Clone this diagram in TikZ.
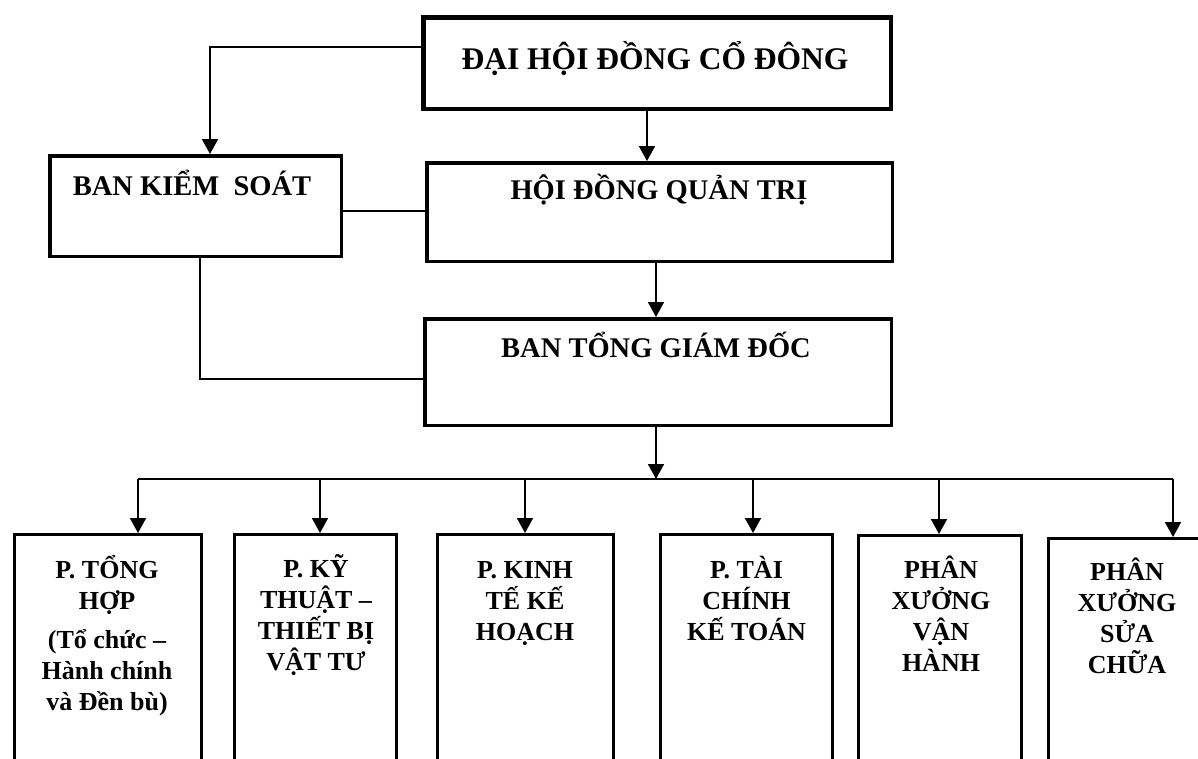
\documentclass[tikz,border=0pt]{standalone}
\usepackage{fontspec}
\setmainfont{Liberation Serif}
\usetikzlibrary{arrows.meta}
\begin{document}
\begin{tikzpicture}[x=1pt,y=-1pt,
  box/.style={draw, line width=3.5pt, inner sep=0pt, rectangle},
  dept/.style={draw, line width=2.7pt, inner sep=0pt, rectangle, anchor=north, minimum height=300},
  conn/.style={line width=1.8pt},
  arr/.style={conn, -{Triangle[width=16pt,length=15pt]}},
  ttl/.style={font=\bfseries\fontsize{28.5}{30}\selectfont, anchor=base, inner sep=0pt},
  dtxt/.style={font=\bfseries\fontsize{26}{31}\selectfont, align=flush center, anchor=base, inner sep=0pt, text width=180pt},
]
\useasboundingbox[fill=white] (0,0) rectangle (1198,758);
\clip (0,0) rectangle (1198,758);

% top boxes
\node[box, line width=4.5pt, minimum width=467.5, minimum height=91.5] (dh) at (657,63) {};
\node[ttl, font=\bfseries\fontsize{31.5}{33}\selectfont] (dht) at (655,69) {ĐẠI HỘI ĐỒNG CỔ ĐÔNG};

\node[box, minimum width=291.5, minimum height=100.5] (bks) at (195.5,206) {};
\node[ttl] (bkst) at (192,195) {BAN KIỂM\ \ SOÁT};

\node[box, minimum width=465.5, minimum height=98.5] (hdqt) at (659.5,212) {};
\node[ttl] (hdqtt) at (659,199) {HỘI ĐỒNG QUẢN TRỊ};

\node[box, minimum width=466.5, minimum height=106.5] (btgd) at (658,372) {};
\node[ttl] (btgdt) at (656,357) {BAN TỔNG GIÁM ĐỐC};

% departments
\node[dept, minimum width=187] (d1) at (108,533) {};
\node[dept, minimum width=162] (d2) at (315.5,533) {};
\node[dept, minimum width=176] (d3) at (525.5,533) {};
\node[dept, minimum width=172] (d4) at (746.5,533) {};
\node[dept, minimum width=163] (d5) at (940,534) {};
\node[dept, minimum width=157] (d6) at (1127,537) {};

\node[dtxt] (d1t) at (107,578) {P. TỔNG\\HỢP\\[8pt](Tổ chức –\\Hành chính\\và Đền bù)};
\node[dtxt] (d2t) at (316,577) {P. KỸ\\THUẬT –\\THIẾT BỊ\\VẬT TƯ};
\node[dtxt] (d3t) at (525,578) {P. KINH\\TẾ KẾ\\HOẠCH};
\node[dtxt] (d4t) at (746.5,578) {P. TÀI\\CHÍNH\\KẾ TOÁN};
\node[dtxt] (d5t) at (941,578) {PHÂN\\XƯỞNG\\VẬN\\HÀNH};
\node[dtxt] (d6t) at (1127,580) {PHÂN\\XƯỞNG\\SỬA\\CHỮA};

% connectors
\draw[arr] ([yshift=16pt]dh.west) -| ([xshift=14.5pt]bks.north);
\draw[arr] ([xshift=-10pt]dh.south) -- ([xshift=-10pt]dh.south |- hdqt.north);
\draw[conn] ([yshift=-5pt]bks.east) -- ([yshift=-5pt]bks.east -| hdqt.west);
\draw[arr] ([xshift=-3.5pt]hdqt.south) -- ([xshift=-3.5pt]hdqt.south |- btgd.north);
\draw[conn] ([xshift=4.5pt]bks.south) |- ([yshift=-7pt]btgd.west);

\coordinate (bj) at (656,479);
\coordinate (b1) at (138,479);
\coordinate (b2) at (320,479);
\coordinate (b3) at (525,479);
\coordinate (b4) at (753,479);
\coordinate (b5) at (939,479);
\coordinate (b6) at (1173,479);
\draw[arr] (btgd.south -| bj) -- (bj);
\draw[conn] (b1) -- (b6);
\draw[arr] (b1) -- (b1 |- d1.north);
\draw[arr] (b2) -- (b2 |- d2.north);
\draw[arr] (b3) -- (b3 |- d3.north);
\draw[arr] (b4) -- (b4 |- d4.north);
\draw[arr] (b5) -- (b5 |- d5.north);
\draw[arr] (b6) -- (b6 |- d6.north);
\end{tikzpicture}
\end{document}
